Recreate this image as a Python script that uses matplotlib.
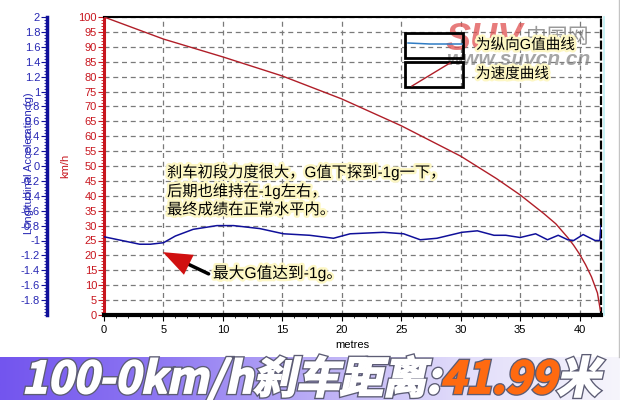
import numpy as np
import matplotlib
matplotlib.use('Agg')
import matplotlib.pyplot as plt
import matplotlib.patheffects as pe
from matplotlib.ticker import MultipleLocator, FuncFormatter
from matplotlib.colors import LinearSegmentedColormap
from matplotlib.textpath import TextPath, text_to_path
from matplotlib.patches import PathPatch, Rectangle
from matplotlib.font_manager import FontProperties
from matplotlib.transforms import Affine2D
from matplotlib.lines import Line2D

plt.rcParams['font.family'] = ['Liberation Sans', 'Noto Sans CJK SC', 'DejaVu Sans']

W, H = 620, 400

# speed (km/h) against distance (m)
speed_dist = [0, 5, 10, 15, 20, 25, 30, 33, 35, 37, 38, 39, 39.5, 40, 40.5, 41, 41.5, 41.75]
speed_kmh = [100, 92.6, 86.6, 80.2, 72.5, 63.5, 53.3, 45.8, 40.3, 34.0, 30.6, 26.0,
             23.4, 20.4, 16.9, 12.8, 7.4, 1.5]

# longitudinal acceleration (g) against distance (m)
g_dist = [0, 1.5, 3, 3.9, 5, 6, 7.5, 9.5, 10.9, 13.1, 15.1, 17.3, 19.3, 20.7, 23.5,
          25.2, 26.6, 28, 30.1, 31.4, 32.8, 33.8, 35, 36.3, 37.3, 38.2, 39, 39.5,
          40.3, 41.3, 41.7, 41.8]
g_value = [-0.95, -1.0, -1.05, -1.05, -1.03, -0.94, -0.85, -0.8, -0.8, -0.84, -0.91,
           -0.93, -0.97, -0.91, -0.89, -0.91, -0.99, -0.97, -0.89, -0.87, -0.93,
           -0.93, -0.96, -0.91, -0.99, -0.93, -0.99, -1.0, -0.92, -1.0, -1.0, -0.8]

x_ticks = [0, 5, 10, 15, 20, 25, 30, 35, 40]
speed_ticks = list(range(0, 101, 5))
g_ticks = [-1.8, -1.6, -1.4, -1.2, -1, -0.8, -0.6, -0.4, -0.2, 0,
           0.2, 0.4, 0.6, 0.8, 1, 1.2, 1.4, 1.6, 1.8, 2]

note_lines = ['刹车初段力度很大，G值下探到-1g一下，',
              '后期也维持在-1g左右，',
              '最终成绩在正常水平内。']
peak_note = '最大G值达到-1g。'
legend_labels = ['为纵向G值曲线', '为速度曲线']
banner_parts = [('100-0km/h刹车距离', 'white'), (':', 'white'),
                ('41.99', '#ff6a10'), ('米', 'white')]

RED = '#c8161e'
BLUE = '#10109a'


def fx(px):
    return px / W


def fy(py):
    return 1 - py / H


fig = plt.figure(figsize=(W / 100, H / 100), dpi=100)

ax = fig.add_axes([fx(104), fy(315), (601 - 104) / W, (315 - 17) / H])
ax.set_xlim(0, 41.8)
ax.set_ylim(0, 100)
ax.plot(speed_dist, speed_kmh, color='#b01e28', lw=1.0, zorder=3)

ax.set_xticks(x_ticks)
ax.xaxis.set_minor_locator(MultipleLocator(1))
ax.set_yticks(speed_ticks)
ax.yaxis.set_minor_locator(MultipleLocator(1))
ax.grid(True, which='major', color='#7a7a7a', linestyle=(0, (4, 3)), lw=0.9)
ax.tick_params(axis='x', labelsize=8, length=4, pad=3, color='black')
ax.tick_params(axis='x', which='minor', length=2.5)
ax.tick_params(axis='y', labelsize=8, labelcolor=RED, color=RED, length=4, pad=1)
ax.tick_params(axis='y', which='minor', length=2, color=RED)
ax.set_xlabel('metres', fontsize=8, labelpad=4)
ax.set_ylabel('km/h', fontsize=8, color=RED)
ax.yaxis.set_label_coords((70 - 104) / 497, 0.5)

ax.spines['left'].set_color(RED)
ax.spines['left'].set_linewidth(2.2)
ax.spines['top'].set_linewidth(1.5)
ax.spines['bottom'].set_linewidth(3)
ax.spines['right'].set_linewidth(1.6)
ax.spines['right'].set_linestyle((0, (3, 2)))

ax2 = ax.twinx()
ax2.set_ylim(-2, 2)
ax2.plot(g_dist, g_value, color=BLUE, lw=1.1, zorder=4)
ax2.yaxis.tick_left()
ax2.yaxis.set_label_position('left')
for side in ['right', 'top', 'bottom']:
    ax2.spines[side].set_visible(False)
ax2.spines['left'].set_position(('outward', 41))
ax2.spines['left'].set_color(BLUE)
ax2.spines['left'].set_linewidth(2.5)
ax2.set_yticks(g_ticks)
ax2.yaxis.set_major_formatter(FuncFormatter(lambda v, p: f'{round(v, 1):g}'))
ax2.yaxis.set_minor_locator(MultipleLocator(0.04))
ax2.tick_params(axis='y', labelsize=8, labelcolor='#2828b4', color=BLUE, length=4, pad=1)
ax2.tick_params(axis='y', which='minor', length=2, color=BLUE)
ax2.set_ylabel('Longitudinal Acceleration (g)', fontsize=8, color='#2828b4')
ax2.yaxis.set_label_coords((34 - 104) / 497, 0.51)

# annotations
glow = [pe.withStroke(linewidth=3.5, foreground='#fdf7c4')]
for i, line in enumerate(note_lines):
    fig.text(fx(167), fy(172 + 19 * i), line, fontsize=11, va='center',
             path_effects=glow, zorder=5)
fig.text(fx(213), fy(273), peak_note, fontsize=11.3, va='center',
         path_effects=glow, zorder=5)

ax.annotate('', xy=(4.95, 21.1), xytext=(8.8, 13.8),
            arrowprops=dict(arrowstyle='-', color='black', lw=2.5,
                            shrinkA=0, shrinkB=10), zorder=6)
ax.annotate('', xy=(4.95, 21.1), xytext=(6.9, 17.3),
            arrowprops=dict(arrowstyle='-|>,head_length=1.3,head_width=0.5',
                            color='#d01010', lw=0, mutation_scale=16,
                            shrinkA=0, shrinkB=0), zorder=6)

# watermark
fig.text(fx(446), fy(50), 'SUV', fontsize=27, fontweight='bold', fontstyle='italic',
         color='#e05050', alpha=0.75, va='baseline', zorder=4)
fig.text(fx(526), fy(43), '中国网', fontsize=15, color='#6e6e6e', alpha=0.7,
         va='baseline', zorder=4)
fig.text(fx(447), fy(65), 'www.suvcn.cn', fontsize=15, fontweight='bold',
         fontstyle='italic', color='#808080', alpha=0.7, va='baseline', zorder=4)

# hand-drawn legend boxes
for top in (33, 62):
    fig.add_artist(Rectangle((fx(405), fy(top + 24.5)), 58 / W, 24.5 / H,
                             fill=False, edgecolor='black', lw=2, zorder=5))
fig.add_artist(Line2D([fx(408), fx(430), fx(462)], [fy(43), fy(44), fy(44)],
                      color='#2f7cc4', lw=1.1, zorder=5))
fig.add_artist(Line2D([fx(412), fx(450)], [fy(86), fy(63)],
                      color='#b01e28', lw=1.0, zorder=5))
fig.text(fx(476), fy(45), legend_labels[0], fontsize=10.5, va='center',
         path_effects=glow, zorder=6)
fig.text(fx(476), fy(74), legend_labels[1], fontsize=10.5, va='center',
         path_effects=glow, zorder=6)

fig.add_artist(Line2D([fx(603.5), fx(603.5)], [fy(17), fy(315)],
                      color='#bdf0f4', lw=1.2, zorder=1))
fig.add_artist(Line2D([fx(619), fx(619)], [fy(0), fy(357)],
                      color='#c4c4c4', lw=1.0, zorder=1))

# banner with gradient
bax = fig.add_axes([0, 0, 1, 43 / H])
cmap = LinearSegmentedColormap.from_list(
    'band', ['#7355ee', '#8d76f2', '#b9acf6', '#e2ddfa', '#f6f5fc'])
bax.imshow(np.linspace(0, 1, 256)[None, :], aspect='auto', cmap=cmap,
           extent=[0, 1, 0, 1])
bax.set_axis_off()

fp = FontProperties(family='Noto Sans CJK SC', weight='bold', size=30)
widths = [text_to_path.get_text_width_height_descent(s, fp, ismath=False)[0]
          for s, c in banner_parts]
size = 30 * (578 * 0.72) / sum(widths)
fp.set_size(size)
x0 = 22 * 0.72
for (s, c), w in zip(banner_parts, widths):
    path = TextPath((0, 0), s, size=size, prop=fp)
    tr = Affine2D().skew_deg(12, 0).translate(x0, 7 * 0.72).scale(1 / 72) + fig.dpi_scale_trans
    fig.add_artist(PathPatch(path, facecolor=c, edgecolor=c, lw=1.3, transform=tr,
                             path_effects=[pe.withStroke(linewidth=3.2, foreground='#5c5c74')],
                             zorder=10))
    x0 += w * size / 30

fig.savefig('out.png', dpi=100)
